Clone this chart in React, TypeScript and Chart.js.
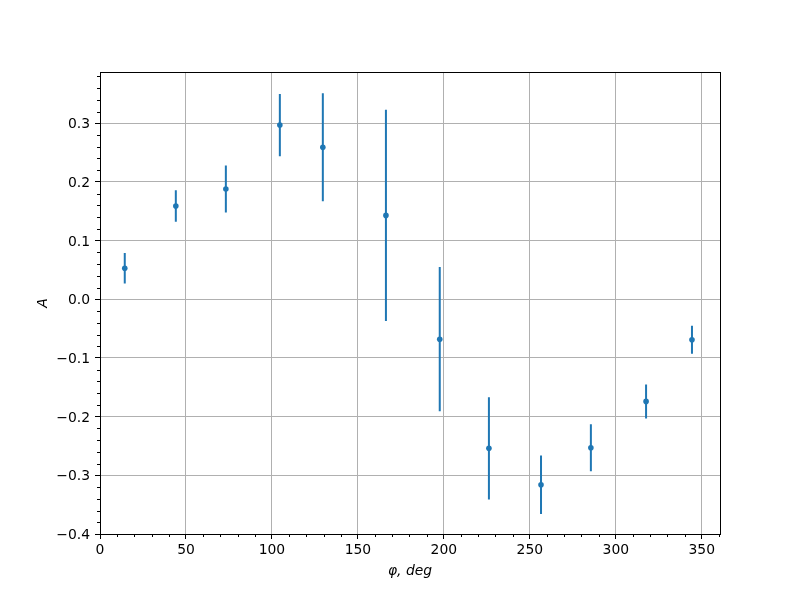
import React, { useEffect, useRef } from 'react';
import { Chart, registerables } from 'chart.js';
Chart.register(...registerables);

const phi = [14.4, 44.1, 73.2, 104.6, 129.6, 166.3, 197.6, 226.2, 256.5, 285.5, 317.6, 344.3];
const A = [0.053, 0.159, 0.188, 0.297, 0.259, 0.143, -0.068, -0.254, -0.316, -0.253, -0.174, -0.069];
const errA = [0.026, 0.027, 0.040, 0.053, 0.092, 0.180, 0.123, 0.087, 0.050, 0.040, 0.029, 0.024];
const xTicks = [0, 50, 100, 150, 200, 250, 300, 350];
const yTicks = [-0.4, -0.3, -0.2, -0.1, 0.0, 0.1, 0.2, 0.3];
const xMinorStep = 10;
const yMinorStep = 0.02;

const BLUE = '#1f77b4';
const FONT = 'DejaVu Sans';

const fmt = (v: number) => v.toFixed(1).replace('-', '\u2212');

const framePlugin = {
  id: 'frameMinor',
  afterDraw(chart: any) {
    const { ctx, chartArea, scales } = chart;
    const { left, right, top, bottom } = chartArea;
    const x = scales.x;
    const y = scales.y;
    ctx.save();
    ctx.strokeStyle = '#000';
    ctx.lineWidth = 1;
    ctx.beginPath();
    for (let i = Math.ceil(x.min / xMinorStep); i * xMinorStep <= x.max + 1e-9; i++) {
      const v = i * xMinorStep;
      if (xTicks.some((t) => Math.abs(t - v) < 1e-9)) continue;
      const px = Math.round(x.getPixelForValue(v)) + 0.5;
      ctx.moveTo(px, bottom);
      ctx.lineTo(px, bottom + 3);
    }
    for (let i = Math.ceil(y.min / yMinorStep - 1e-9); i * yMinorStep <= y.max + 1e-9; i++) {
      const v = i * yMinorStep;
      if (yTicks.some((t) => Math.abs(t - v) < 1e-9)) continue;
      const py = Math.round(y.getPixelForValue(v)) + 0.5;
      ctx.moveTo(left, py);
      ctx.lineTo(left - 3, py);
    }
    ctx.stroke();
    ctx.strokeRect(Math.round(left) + 0.5, Math.round(top) + 0.5, Math.round(right - left), Math.round(bottom - top));
    ctx.restore();
  },
};

export default function App() {
  const ref = useRef<HTMLCanvasElement | null>(null);
  useEffect(() => {
    if (!ref.current) return;
    const errData: any[] = [];
    phi.forEach((p, i) => {
      errData.push({ x: p, y: A[i] - errA[i] });
      errData.push({ x: p, y: A[i] + errA[i] });
      errData.push({ x: p, y: null });
    });
    const chart = new Chart(ref.current, {
      type: 'scatter',
      data: {
        datasets: [
          {
            label: 'A',
            data: phi.map((p, i) => ({ x: p, y: A[i] })),
            backgroundColor: BLUE,
            borderColor: BLUE,
            borderWidth: 0,
            pointRadius: 2.8,
            showLine: false,
            order: 0,
          },
          {
            label: 'err',
            data: errData,
            borderColor: BLUE,
            backgroundColor: BLUE,
            borderWidth: 2,
            pointRadius: 0,
            showLine: true,
            spanGaps: false,
            order: 1,
          } as any,
        ],
      },
      options: {
        animation: false,
        responsive: false,
        maintainAspectRatio: false,
        layout: { padding: { left: 0, right: 80, top: 72, bottom: 0 } },
        plugins: { legend: { display: false }, tooltip: { enabled: false } },
        scales: {
          x: {
            type: 'linear',
            min: 0,
            max: 360.6,
            afterBuildTicks: (scale: any) => {
              scale.ticks = xTicks.map((v) => ({ value: v }));
            },
            afterFit: (scale: any) => {
              scale.height = 66;
            },
            ticks: {
              color: '#000',
              font: { family: FONT, size: 13.9 },
              padding: 3.5,
              maxRotation: 0,
              autoSkip: false,
              callback: (v: any) => String(v),
            },
            grid: { color: '#b0b0b0', lineWidth: 1, tickColor: '#000', tickLength: 5, drawTicks: true },
            border: { display: false },
            title: {
              display: true,
              text: '\u03c6, deg',
              color: '#000',
              font: { family: FONT, size: 13.9, style: 'italic' },
              padding: { top: 0, bottom: 20.6 },
            },
          },
          y: {
            type: 'linear',
            min: -0.4,
            max: 0.3874,
            afterBuildTicks: (scale: any) => {
              scale.ticks = yTicks.map((v) => ({ value: v }));
            },
            afterFit: (scale: any) => {
              scale.width = 100;
            },
            ticks: {
              color: '#000',
              font: { family: FONT, size: 13.9 },
              padding: 5,
              labelOffset: 1.5,
              autoSkip: false,
              callback: (v: any) => fmt(Number(v)),
            },
            grid: { color: '#b0b0b0', lineWidth: 1, tickColor: '#000', tickLength: 5, drawTicks: true },
            border: { display: false },
            title: {
              display: true,
              text: 'A',
              color: '#000',
              font: { family: FONT, size: 13.9, style: 'italic' },
              padding: { top: 34.6, bottom: 0 },
            },
          },
        },
      },
      plugins: [framePlugin],
    });
    return () => chart.destroy();
  }, []);
  return (
    <div style={{ position: 'fixed', left: 0, top: 0, width: 800, height: 600, background: '#fff' }}>
      <canvas ref={ref} width={800} height={600} style={{ width: 800, height: 600 }} />
    </div>
  );
}
